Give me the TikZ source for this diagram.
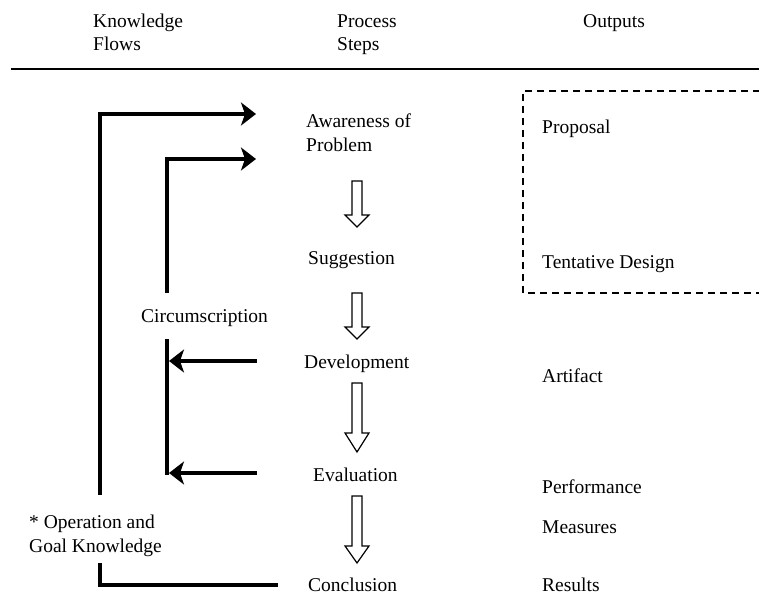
\documentclass[tikz,border=0pt]{standalone}
\usepackage{fontspec}
\setmainfont{Liberation Serif}
\usetikzlibrary{arrows.meta}
\begin{document}
\begin{tikzpicture}[x=1pt,y=-1pt,
  lbl/.style={anchor=base west,inner sep=0pt,font=\fontsize{19.5}{24}\selectfont},
  flow/.style={line width=4pt,line join=miter,-{Stealth[length=15pt,width=23pt,inset=4pt]}},
  flowplain/.style={line width=4pt,line join=miter},
  hollow/.style={draw,line width=1.2pt,fill=white,line join=miter},
  dashbox/.style={line width=1.5pt,dash pattern=on 7pt off 5pt}]
\useasboundingbox (0,0) rectangle (759,596);
% header
\node[lbl] (kf1) at (93,28) {Knowledge};
\node[lbl] (kf2) at (93,51) {Flows};
\node[lbl] (ps1) at (337,28) {Process};
\node[lbl] (ps2) at (337,51) {Steps};
\node[lbl] (out) at (583,28) {Outputs};
\coordinate (ruleL) at (11,69);
\coordinate (ruleR) at (759,69);
\draw[line width=1.6pt] (ruleL) -- (ruleR);
% dashed output box
\coordinate (dbTR) at (760,91);
\coordinate (dbTL) at (523,91);
\coordinate (dbBL) at (523,293);
\coordinate (dbBR) at (760,293);
\draw[dashbox] (dbTR) -- (dbTL) -- (dbBL) -- (dbBR);
% process steps
\node[lbl] (aw1) at (306,128) {Awareness of};
\node[lbl] (aw2) at (306,152) {Problem};
\node[lbl] (sug) at (308,264) {Suggestion};
\node[lbl] (dev) at (304,368) {Development};
\node[lbl] (eva) at (313,481) {Evaluation};
\node[lbl] (con) at (308,591) {Conclusion};
% outputs
\node[lbl] (prop) at (542,134) {Proposal};
\node[lbl] (tent) at (542,268) {Tentative Design};
\node[lbl] (art) at (542,382) {Artifact};
\node[lbl] (perf) at (542,493) {Performance};
\node[lbl] (meas) at (542,533) {Measures};
\node[lbl] (res) at (542,591) {Results};
% knowledge flow labels
\node[lbl] (circ) at (141,322) {Circumscription};
\node[lbl] (op1) at (29,528) {* Operation and};
\node[lbl] (op2) at (29,552) {Goal Knowledge};
% hollow arrows between steps
\foreach \t/\h/\p in {181/215/227, 293/327/339, 383/433/452, 496/546/563}{
  \draw[hollow] (352,\t) -- (362,\t) -- (362,\h) -- (369,\h) -- (357,\p)
     -- (345,\h) -- (352,\h) -- cycle;
}
% knowledge flows
\coordinate (o1) at (100,495);
\coordinate (o2) at (100,114);
\coordinate (o3) at (256,114);
\draw[flow] (o1) -- (o2) -- (o3);
\coordinate (i1) at (167,293);
\coordinate (i2) at (167,159);
\coordinate (i3) at (256,159);
\draw[flow] (i1) -- (i2) -- (i3);
\coordinate (c1) at (167,339);
\coordinate (c2) at (167,475);
\draw[flowplain] (c1) -- (c2);
\coordinate (d1) at (257,361);
\coordinate (d2) at (169,361);
\draw[flow] (d1) -- (d2);
\coordinate (e1) at (257,473);
\coordinate (e2) at (169,473);
\draw[flow] (e1) -- (e2);
\coordinate (b1) at (100,563);
\coordinate (b2) at (100,585);
\coordinate (b3) at (278,585);
\draw[flowplain] (b1) -- (b2) -- (b3);
\end{tikzpicture}
\end{document}
